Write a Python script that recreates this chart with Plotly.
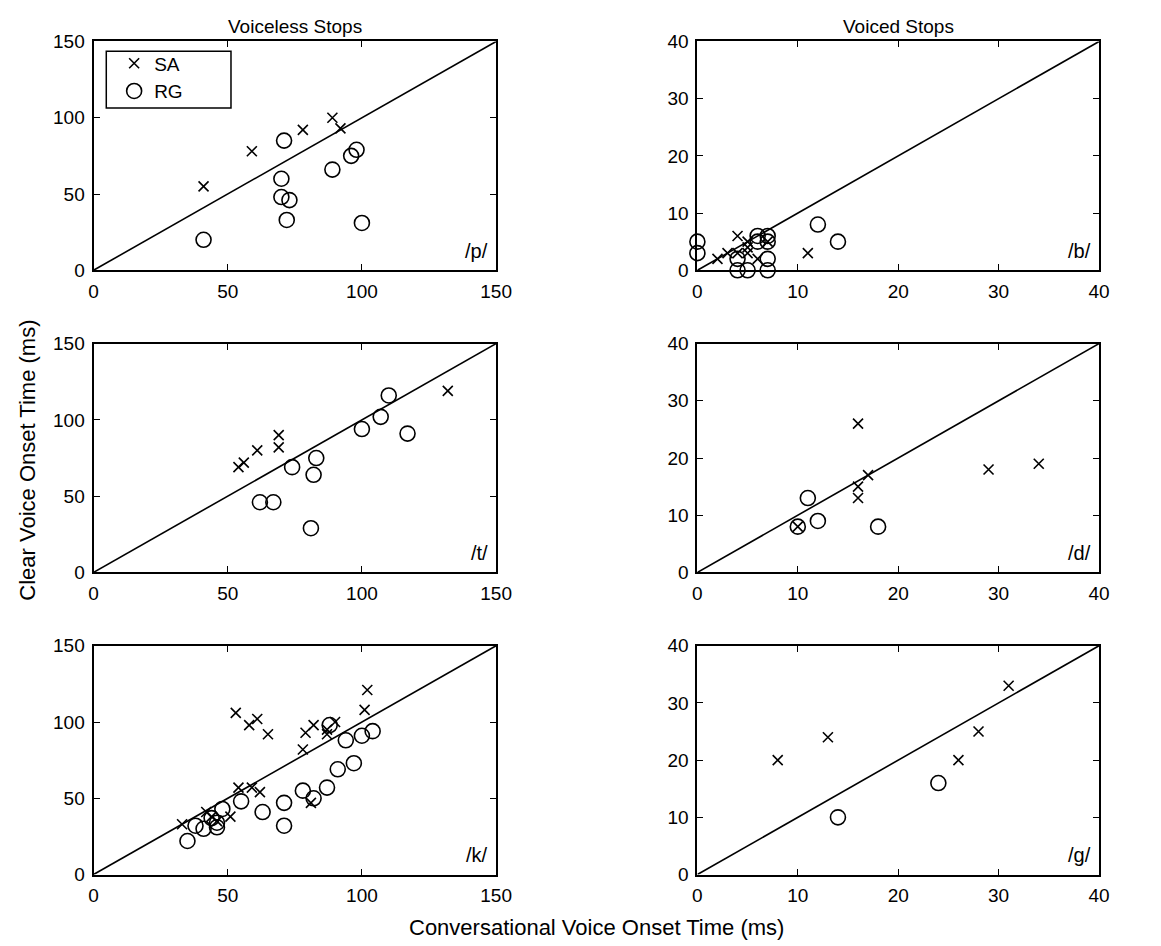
import plotly.graph_objects as go

# ---------------- data ----------------
p_sa_x = [41, 59, 78, 89, 92]
p_sa_y = [55, 78, 92, 100, 93]
p_rg_x = [41, 71, 70, 70, 73, 72, 89, 96, 98, 100]
p_rg_y = [20, 85, 60, 48, 46, 33, 66, 75, 79, 31]

t_sa_x = [54, 56, 61, 69, 69, 132]
t_sa_y = [69, 72, 80, 90, 82, 119]
t_rg_x = [74, 83, 82, 62, 67, 81, 100, 107, 110, 117]
t_rg_y = [69, 75, 64, 46, 46, 29, 94, 102, 116, 91]

k_sa_x = [33, 42, 44, 46, 51, 53, 54, 58, 59, 61, 62, 65, 78, 79, 81, 82, 87, 87, 90, 101, 102]
k_sa_y = [33, 41, 38, 35, 38, 106, 57, 98, 57, 102, 54, 92, 82, 93, 47, 98, 92, 95, 100, 108, 121]
k_rg_x = [35, 38, 41, 44, 46, 46, 48, 55, 63, 71, 71, 78, 82, 87, 88, 91, 94, 97, 100, 104]
k_rg_y = [22, 32, 30, 37, 34, 31, 43, 48, 41, 47, 32, 55, 50, 57, 98, 69, 88, 73, 91, 94]

b_sa_x = [2, 3, 4, 4, 5, 5, 5, 6, 7, 11]
b_sa_y = [2, 3, 3, 6, 3, 4, 5, 2, 5, 3]
b_rg_x = [0, 0, 4, 4, 5, 6, 6, 7, 7, 7, 7, 12, 14]
b_rg_y = [5, 3, 2, 0, 0, 6, 5, 6, 5, 2, 0, 8, 5]

d_sa_x = [16, 17, 16, 16, 10, 29, 34]
d_sa_y = [26, 17, 15, 13, 8, 18, 19]
d_rg_x = [10, 11, 12, 18]
d_rg_y = [8, 13, 9, 8]

g_sa_x = [8, 13, 26, 28, 31]
g_sa_y = [20, 24, 20, 25, 33]
g_rg_x = [14, 24]
g_rg_y = [10, 16]

voiceless_ticks = [0, 50, 100, 150]
voiced_ticks = [0, 10, 20, 30, 40]
panel_labels = ["/p/", "/b/", "/t/", "/d/", "/k/", "/g/"]
column_titles = ["Voiceless Stops", "Voiced Stops"]
x_title = "Conversational Voice Onset Time (ms)"
y_title = "Clear Voice Onset Time (ms)"

# ---------------- figure ----------------
W, H = 1161, 946
FONT = "Liberation Sans, Arial, Helvetica, sans-serif"
TICK_FS = 19
TITLE_FS = 19
AXT_FS = 22
LAB_FS = 20
LEG_FS = 19

LX0, LX1 = 82, 492
RX0, RX1 = 697, 1106
TOP, PH, GAP = 24, 234, 75

xdom_left = [LX0 / W, LX1 / W]
xdom_right = [RX0 / W, RX1 / W]
ydoms = []
for r in range(3):
    y_top = TOP + r * (PH + GAP)
    ydoms.append([1 - (y_top + PH) / H, 1 - y_top / H])

panels = [
    (p_sa_x, p_sa_y, p_rg_x, p_rg_y, 150, voiceless_ticks, xdom_left, ydoms[0]),
    (b_sa_x, b_sa_y, b_rg_x, b_rg_y, 40, voiced_ticks, xdom_right, ydoms[0]),
    (t_sa_x, t_sa_y, t_rg_x, t_rg_y, 150, voiceless_ticks, xdom_left, ydoms[1]),
    (d_sa_x, d_sa_y, d_rg_x, d_rg_y, 40, voiced_ticks, xdom_right, ydoms[1]),
    (k_sa_x, k_sa_y, k_rg_x, k_rg_y, 150, voiceless_ticks, xdom_left, ydoms[2]),
    (g_sa_x, g_sa_y, g_rg_x, g_rg_y, 40, voiced_ticks, xdom_right, ydoms[2]),
]

fig = go.Figure()
layout = dict(
    width=W, height=H,
    margin=dict(l=0, r=0, t=0, b=0),
    paper_bgcolor="white", plot_bgcolor="white",
    font=dict(family=FONT, size=TICK_FS, color="black"),
    showlegend=True,
    legend=dict(
        x=(LX0 + 21) / W, y=1 - (TOP + 3) / H, xanchor="left", yanchor="top",
        bgcolor="rgba(0,0,0,0)", borderwidth=0,
        font=dict(family=FONT, size=LEG_FS, color="black"),
        itemwidth=30, tracegroupgap=0,
    ),
    shapes=[dict(
        type="rect", xref="paper", yref="paper",
        x0=(LX0 + 13) / W, x1=(LX0 + 140) / W,
        y0=1 - (TOP + 68) / H, y1=1 - (TOP + 10) / H,
        line=dict(color="black", width=1.5), fillcolor="white", layer="above",
    )],
)

annotations = []
for i, (sx, sy, rx, ry, vmax, ticks, xd, yd) in enumerate(panels):
    n = i + 1
    xa = "x" if n == 1 else f"x{n}"
    ya = "y" if n == 1 else f"y{n}"
    fig.add_trace(go.Scatter(
        x=[0, vmax], y=[0, vmax], mode="lines",
        line=dict(color="black", width=1.6),
        xaxis=xa, yaxis=ya, showlegend=False, hoverinfo="skip",
    ))
    fig.add_trace(go.Scatter(
        x=sx, y=sy, mode="markers", name="SA",
        marker=dict(symbol="x-thin-open", size=10, color="black",
                    line=dict(color="black", width=1.6)),
        xaxis=xa, yaxis=ya, showlegend=(n == 1), cliponaxis=False,
    ))
    fig.add_trace(go.Scatter(
        x=rx, y=ry, mode="markers", name="RG",
        marker=dict(symbol="circle-open", size=15, color="black",
                    line=dict(color="black", width=1.6)),
        xaxis=xa, yaxis=ya, showlegend=(n == 1), cliponaxis=False,
    ))
    axis_common = dict(
        range=[0, vmax], tickvals=ticks, ticktext=[str(t) for t in ticks],
        ticks="inside", ticklen=6, tickwidth=1.3, tickcolor="black",
        showline=True, linecolor="black", linewidth=2, mirror="allticks",
        showgrid=False, zeroline=False, fixedrange=True,
        tickfont=dict(family=FONT, size=TICK_FS, color="black"),
    )
    layout["xaxis" if n == 1 else f"xaxis{n}"] = dict(
        axis_common, domain=xd, anchor=ya, ticklabelstandoff=3)
    layout["yaxis" if n == 1 else f"yaxis{n}"] = dict(
        axis_common, domain=yd, anchor=xa, ticklabelstandoff=3)
    annotations.append(dict(
        text=panel_labels[i], x=vmax * 0.985, y=vmax * 0.085,
        xref=xa, yref=ya, xanchor="right", yanchor="middle",
        showarrow=False, font=dict(family=FONT, size=LAB_FS, color="black"),
    ))

annotations += [
    dict(text=column_titles[0], x=(xdom_left[0] + xdom_left[1]) / 2, y=1 - 9 / H,
         xref="paper", yref="paper", xanchor="center", yanchor="middle",
         showarrow=False, font=dict(family=FONT, size=TITLE_FS, color="black")),
    dict(text=column_titles[1], x=(xdom_right[0] + xdom_right[1]) / 2, y=1 - 9 / H,
         xref="paper", yref="paper", xanchor="center", yanchor="middle",
         showarrow=False, font=dict(family=FONT, size=TITLE_FS, color="black")),
    dict(text=x_title, x=(xdom_left[0] + xdom_right[1]) / 2, y=1 - 930 / H,
         xref="paper", yref="paper", xanchor="center", yanchor="middle",
         showarrow=False, font=dict(family=FONT, size=AXT_FS, color="black")),
    dict(text=y_title, x=15 / W, y=1 - 452 / H, textangle=-90,
         xref="paper", yref="paper", xanchor="center", yanchor="middle",
         showarrow=False, font=dict(family=FONT, size=AXT_FS, color="black")),
]
layout["annotations"] = annotations
fig.update_layout(**layout)
fig.write_html("out.html")
